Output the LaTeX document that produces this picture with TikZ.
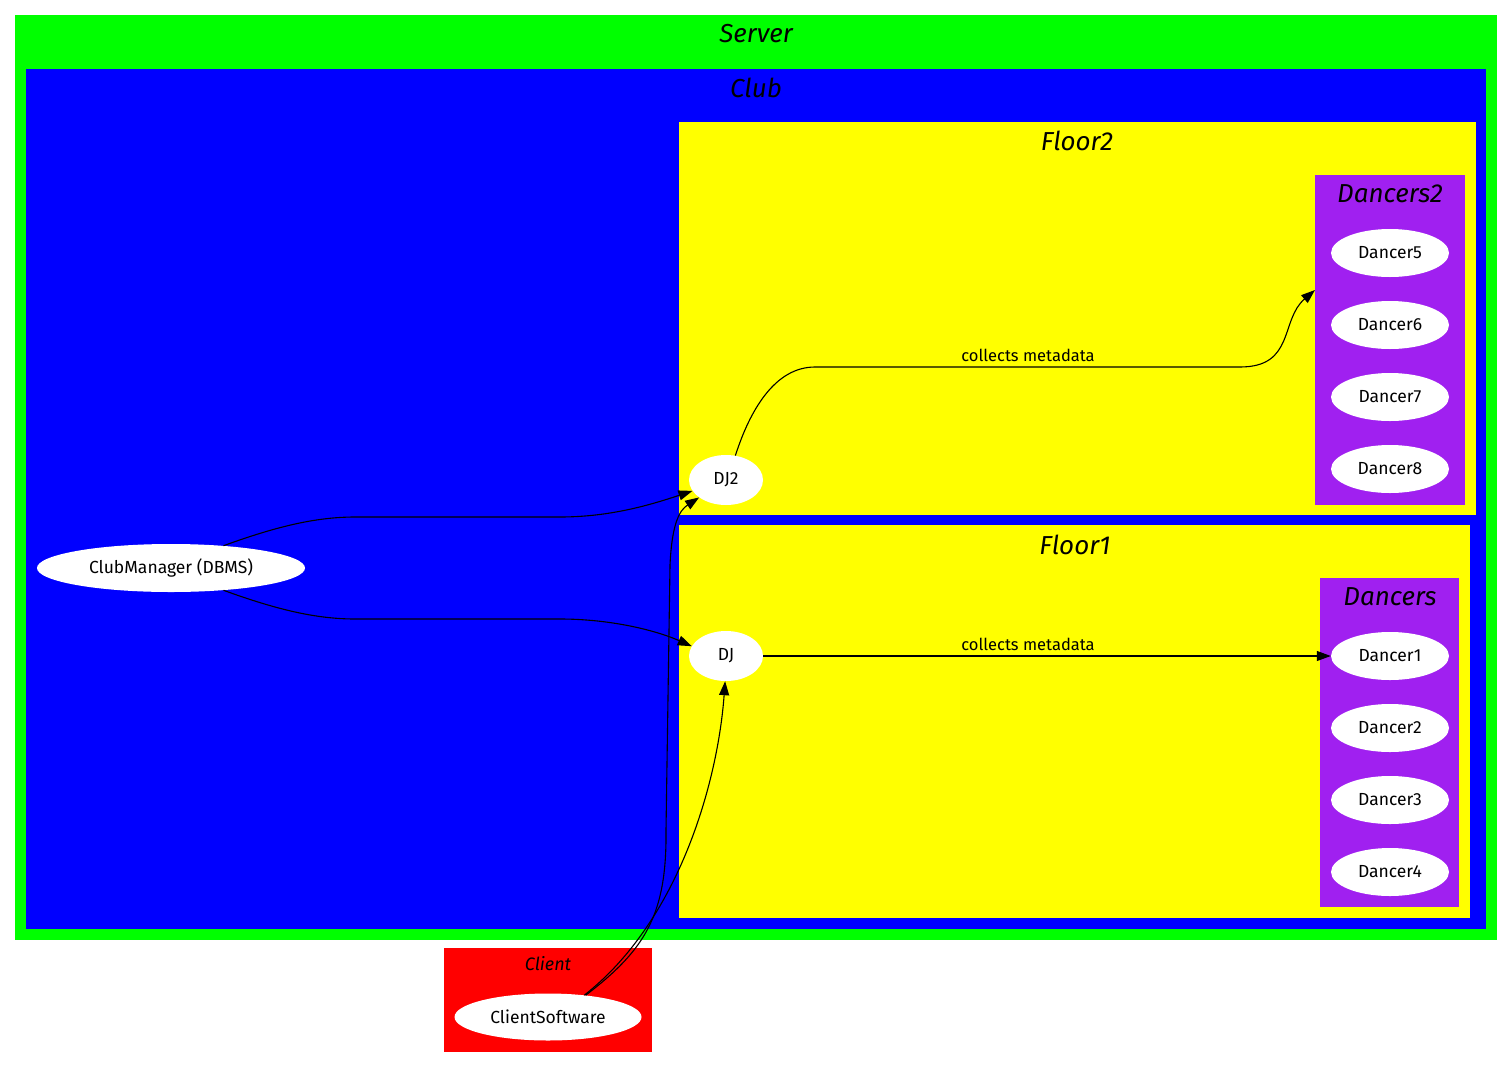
\documentclass[tikz,border=0pt]{standalone}
\usepackage{fontspec}
\setmainfont{Fira Sans}
\usetikzlibrary{shapes.geometric,arrows.meta}
\definecolor{gvgreen}{HTML}{00FF00}
\definecolor{gvblue}{HTML}{0000FF}
\definecolor{gvyellow}{HTML}{FFFF00}
\definecolor{gvpurple}{HTML}{A020F0}
\definecolor{gvred}{HTML}{FF0000}
\tikzset{
  ctitle/.style={font=\fontsize{26}{28}\selectfont\itshape, anchor=center, inner sep=0},
  stitle/.style={font=\fontsize{18}{20}\selectfont\itshape, anchor=center, inner sep=0},
  gvnode/.style={ellipse, fill=white, draw=none, inner sep=0, font=\fontsize{17.5}{19}\selectfont, minimum height=48pt},
  edge/.style={draw=black, line width=1.1pt, -{Triangle[length=14pt,width=10pt]}},
  elabel/.style={font=\fontsize{16.5}{18}\selectfont, inner sep=0}
}
\begin{document}
\begin{tikzpicture}[x=1pt,y=-1pt]
\useasboundingbox (0,0) rectangle (1507,1068);
% clusters
\fill[gvgreen] (15,15) rectangle (1497,940);
\node[ctitle] (tserver) at (756,34) {Server};
\fill[gvblue] (26,69) rectangle (1486,929);
\node[ctitle] (tclub) at (756,88) {Club};
\fill[gvyellow] (679,122) rectangle (1476,515);
\node[ctitle] (tfloor2) at (1077,141) {Floor2};
\fill[gvyellow] (679,525) rectangle (1470,918);
\node[ctitle] (tfloor1) at (1075,545) {Floor1};
\fill[gvpurple] (1315,175) rectangle (1465,505);
\node[ctitle] (tdancers2) at (1390,194) {Dancers2};
\fill[gvpurple] (1320,578) rectangle (1459,907);
\node[ctitle] (tdancers) at (1390,597) {Dancers};
\fill[gvred] (444,948) rectangle (652,1052);
\node[stitle] (tclient) at (548,964) {Client};
% nodes
\node[gvnode, minimum width=268pt] (cm) at (171,568) {ClubManager (DBMS)};
\node[gvnode, minimum width=74pt, minimum height=50pt] (dj2) at (726,480) {DJ2};
\node[gvnode, minimum width=74pt, minimum height=50pt] (dj) at (726,656) {DJ};
\node[gvnode, minimum width=118pt] (d5) at (1390,253) {Dancer5};
\node[gvnode, minimum width=118pt] (d6) at (1390,325) {Dancer6};
\node[gvnode, minimum width=118pt] (d7) at (1390,397) {Dancer7};
\node[gvnode, minimum width=118pt] (d8) at (1390,469) {Dancer8};
\node[gvnode, minimum width=118pt] (d1) at (1390,656) {Dancer1};
\node[gvnode, minimum width=118pt] (d2) at (1390,728) {Dancer2};
\node[gvnode, minimum width=118pt] (d3) at (1390,800) {Dancer3};
\node[gvnode, minimum width=118pt] (d4) at (1390,872) {Dancer4};
\node[gvnode, minimum width=187pt, minimum height=47pt] (cs) at (548,1017) {ClientSoftware};
\coordinate (dancers2edge) at (1315,290);
% edges
\draw[edge] (cm.23) .. controls (275,527) and (315,517) .. (355,517)
  -- (560,517) .. controls (610,517) and (650,505) .. (dj2.198);
\draw[edge] (cm.-23) .. controls (275,609) and (315,619) .. (355,619)
  -- (560,619) .. controls (610,619) and (655,630) .. (dj.164);
\draw[edge] (dj2.69) .. controls (750,410) and (775,367) .. (815,367)
  -- (1240,367) .. controls (1295,367) and (1280,320) .. (dancers2edge);
\node[elabel] (l2) at (1028,355) {collects metadata};
\draw[edge] (dj) -- (d1);
\node[elabel] (l1) at (1028,644) {collects metadata};
\draw[edge] (cs.30) .. controls (645,950) and (667,915) .. (666,830)
  -- (670,565) .. controls (672,522) and (680,510) .. (dj2.213);
\draw[edge] (cs.31) .. controls (680,920) and (718,780) .. (dj.-92);
\end{tikzpicture}
\end{document}
